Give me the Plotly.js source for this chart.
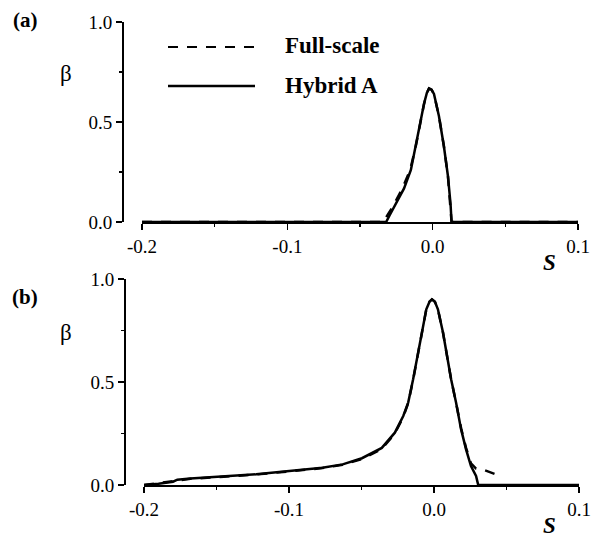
<!DOCTYPE html>
<html>
<head>
<meta charset="utf-8">
<script src="https://cdn.plot.ly/plotly-3.0.1.min.js"></script>
<style>
  html, body { margin: 0; padding: 0; background: #fff; }
  #chart { width: 600px; height: 546px; }
</style>
</head>
<body>
<div id="chart"></div>
<script>
// Panel (a): beta against S
const sA_hybrid = [-0.2, -0.1, -0.032, -0.0295, -0.0265, -0.0197, -0.015, -0.0116, -0.0087, -0.006, -0.004, -0.0025, -0.0008, 0.0009, 0.0043, 0.0077, 0.0105, 0.0123, 0.013, 0.05, 0.1];
const bA_hybrid = [0, 0, 0, 0.035, 0.077, 0.168, 0.26, 0.377, 0.49, 0.59, 0.645, 0.668, 0.662, 0.64, 0.53, 0.38, 0.23, 0.09, 0, 0, 0];
const sA_full = [-0.2, -0.1, -0.034, -0.031, -0.028, -0.021, -0.0155, -0.0118, -0.0088, -0.006, -0.004, -0.0025, -0.0008, 0.0009, 0.0043, 0.0077, 0.0105, 0.0123, 0.013, 0.05, 0.1];
const bA_full = [0, 0, 0, 0.035, 0.07, 0.165, 0.26, 0.372, 0.488, 0.588, 0.645, 0.668, 0.662, 0.64, 0.53, 0.38, 0.23, 0.09, 0, 0, 0];

// Panel (b): beta against S
const sB_hybrid = [-0.2, -0.19, -0.18, -0.177, -0.168, -0.145, -0.1226, -0.0998, -0.077, -0.063, -0.0497, -0.036, -0.027, -0.0212, -0.0178, -0.0144, -0.0114, -0.0087, -0.0053, -0.0031, -0.0014, 0.0006, 0.0027, 0.0062, 0.0091, 0.0118, 0.0152, 0.0187, 0.0221, 0.0255, 0.029, 0.0305, 0.06, 0.1];
const bB_hybrid = [0, 0.006, 0.016, 0.026, 0.031, 0.041, 0.052, 0.068, 0.084, 0.10, 0.13, 0.18, 0.254, 0.335, 0.40, 0.513, 0.626, 0.74, 0.853, 0.89, 0.901, 0.89, 0.853, 0.74, 0.626, 0.513, 0.40, 0.27, 0.173, 0.092, 0.044, 0, 0, 0];
const sB_full = [-0.2, -0.19, -0.18, -0.177, -0.168, -0.145, -0.1226, -0.0998, -0.077, -0.063, -0.0497, -0.036, -0.027, -0.0212, -0.0178, -0.0144, -0.0114, -0.0087, -0.0053, -0.0031, -0.0014, 0.0006, 0.0027, 0.0062, 0.0091, 0.0118, 0.0152, 0.0187, 0.0221, 0.0255, 0.029, 0.034, 0.0425];
const bB_full = [0, 0.01, 0.02, 0.024, 0.03, 0.04, 0.051, 0.066, 0.082, 0.098, 0.126, 0.175, 0.25, 0.33, 0.398, 0.51, 0.624, 0.74, 0.853, 0.89, 0.901, 0.89, 0.853, 0.74, 0.626, 0.513, 0.40, 0.275, 0.18, 0.105, 0.08, 0.074, 0.052];

const xTickVals = [-0.2, -0.1, 0.0, 0.1];
const xTickText = ['-0.2', '-0.1', '0.0', '0.1'];
const yTickVals = [0, 0.5, 1.0];
const yTickText = ['0.0', '0.5', '1.0'];

const legendNames = ['Full-scale', 'Hybrid A'];

const W = 600, H = 546;
const px = v => v / W;
const py = v => 1 - v / H;

const serif = 'Liberation Serif, Times New Roman, serif';
const tickFont = { family: serif, size: 19, color: '#000' };

const dashStyle = '10px,9px';

function curve(x, y, xa, ya, dashed, name) {
  return {
    type: 'scatter', mode: 'lines', x: x, y: y, xaxis: xa, yaxis: ya, name: name,
    line: { color: '#000', width: 2.5, dash: dashed ? dashStyle : 'solid' },
    showlegend: false, hoverinfo: 'skip'
  };
}

// dashed curves first so the solid ones sit on top
const traces = [
  curve(sA_full, bA_full, 'x', 'y', true, legendNames[0]),
  curve(sA_hybrid, bA_hybrid, 'x', 'y', false, legendNames[1]),
  curve(sB_full, bB_full, 'x2', 'y2', true, legendNames[0]),
  curve(sB_hybrid, bB_hybrid, 'x2', 'y2', false, legendNames[1])
];

function xAxis(domain, anchor) {
  return {
    domain: domain, anchor: anchor, range: [-0.2, 0.1],
    tickvals: xTickVals, ticktext: xTickText,
    ticks: 'outside', ticklen: 6, tickwidth: 1.5, tickcolor: '#000',
    minor: { dtick: 0.05, tick0: 0, ticks: 'outside', ticklen: 3, tickwidth: 1.5, tickcolor: '#000', showgrid: false },
    showline: true, linecolor: '#000', linewidth: 2.2,
    showgrid: false, zeroline: false, tickfont: tickFont, fixedrange: true
  };
}
function yAxis(domain, pos) {
  return {
    domain: domain, anchor: 'free', position: pos, range: [0, 1],
    tickvals: yTickVals, ticktext: yTickText,
    ticks: 'outside', ticklen: 6, tickwidth: 1.5, tickcolor: '#000',
    minor: { dtick: 0.25, tick0: 0, ticks: 'outside', ticklen: 3, tickwidth: 1.5, tickcolor: '#000', showgrid: false },
    showline: true, linecolor: '#000', linewidth: 2.2,
    showgrid: false, zeroline: false, tickfont: tickFont, fixedrange: true
  };
}

const textAnn = (x, y, text, size, xanchor) => ({
  xref: 'paper', yref: 'paper', x: px(x), y: py(y), text: text, showarrow: false,
  xanchor: xanchor || 'center', yanchor: 'middle',
  font: { family: serif, size: size, color: '#000' }
});

const layout = {
  width: W, height: H,
  margin: { l: 0, r: 0, t: 0, b: 0 },
  paper_bgcolor: '#fff', plot_bgcolor: 'rgba(0,0,0,0)',
  showlegend: false,
  xaxis: xAxis([px(142), px(578)], 'y'),
  yaxis: yAxis([py(222), py(22)], px(123)),
  xaxis2: xAxis([px(144), px(579)], 'y2'),
  yaxis2: yAxis([py(485), py(279)], px(125)),
  shapes: [
    { type: 'line', xref: 'paper', yref: 'paper', x0: px(168), x1: px(255), y0: py(47), y1: py(47),
      line: { color: '#000', width: 2, dash: dashStyle } },
    { type: 'line', xref: 'paper', yref: 'paper', x0: px(168), x1: px(255), y0: py(86), y1: py(86),
      line: { color: '#000', width: 2.5 } }
  ],
  annotations: [
    textAnn(283, 45, '<b>' + legendNames[0] + '</b>', 23, 'left'),
    textAnn(283, 85, '<b>' + legendNames[1] + '</b>', 23, 'left'),
    textAnn(25, 20, '<b>(a)</b>', 21),
    textAnn(25, 297, '<b>(b)</b>', 21),
    textAnn(66, 74, 'β', 23),
    textAnn(66, 332, 'β', 23),
    textAnn(549, 262, '<b><i>S</i></b>', 23),
    textAnn(549, 525, '<b><i>S</i></b>', 23)
  ]
};

Plotly.newPlot('chart', traces, layout, { displayModeBar: false, staticPlot: true });
</script>
</body>
</html>
